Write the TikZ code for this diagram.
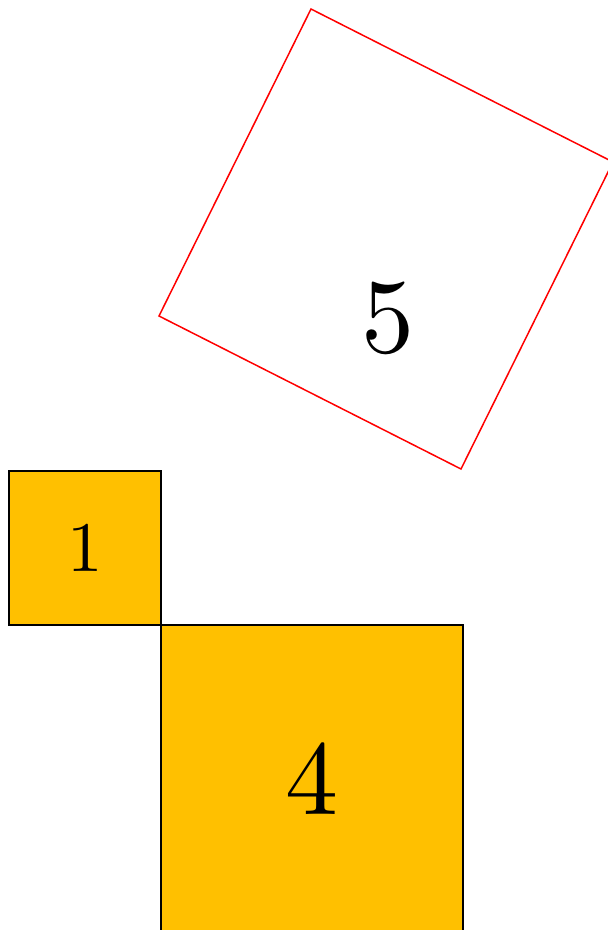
\documentclass[tikz,border=0pt]{standalone}
\usepackage{fontspec}
\setmainfont{lmroman10-regular.otf}
\usepackage{tikz}
\definecolor{tileorange}{HTML}{FFC000}
\tikzstyle{tile}=[draw=black, fill=tileorange, line width=1.5pt, inner sep=0pt]
\tikzstyle{hyp}=[draw=red, line width=1.5pt, line join=miter]
\tikzstyle{small-num}=[font=\fontsize{71}{71}\selectfont]
\tikzstyle{big-num}=[font=\fontsize{106}{106}\selectfont]

\begin{document}
\begin{tikzpicture}[x=1pt,y=-1pt]
\useasboundingbox (0,0) rectangle (608,930);
\node[tile, small-num, minimum width=152pt, minimum height=154pt] (sq1) at (85,548) {1};
\node[tile, big-num, minimum width=302pt, minimum height=308pt] (sq4) at (312,779) {4};
\coordinate (c1) at (159,316);
\coordinate (c2) at (311,9);
\coordinate (c3) at (613,162);
\coordinate (c4) at (461,469);
\draw[hyp] (c1) -- (c2) -- (c3) -- (c4) -- cycle;
\node[big-num, inner sep=0pt] (lab5) at (387.5,318) {5};

\end{tikzpicture}
\end{document}
